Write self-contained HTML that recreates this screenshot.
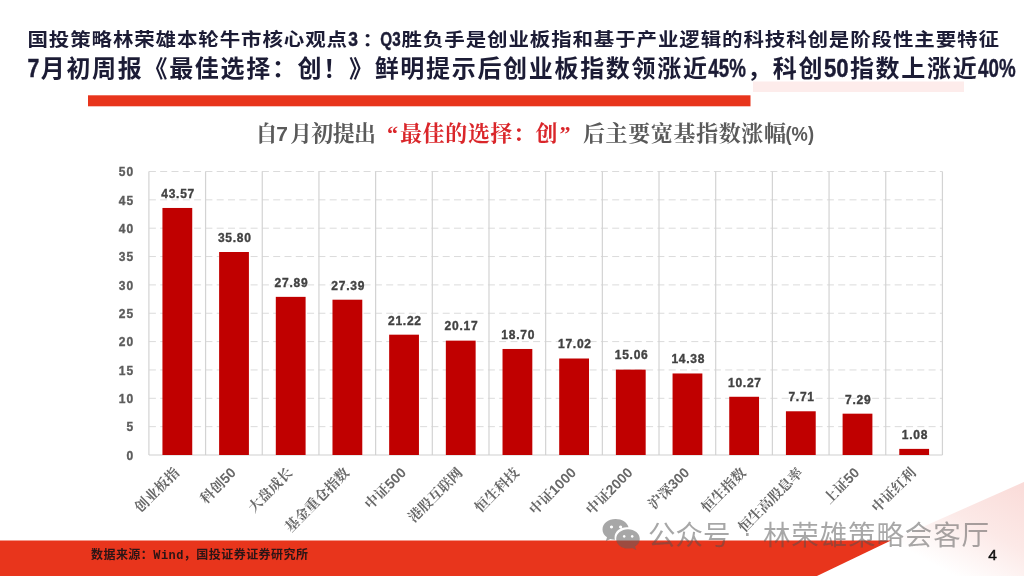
<!DOCTYPE html>
<html lang="zh-CN">
<head>
<meta charset="utf-8">
<title>国投策略 - 最佳选择：创</title>
<style>
html,body{margin:0;padding:0;background:#fff;}
body{width:1024px;height:576px;overflow:hidden;position:relative;}
svg{display:block;position:absolute;left:0;top:0;}
.sans{font-family:"Liberation Sans","Noto Sans CJK SC",sans-serif;}
.serif{font-family:"Liberation Serif","Noto Serif CJK SC",serif;}
.sserif{font-family:"Liberation Sans","Noto Serif CJK SC",serif;}
.mono{font-family:"Liberation Mono","Noto Sans Mono CJK SC","Noto Sans CJK SC",monospace;}
.t1{font-weight:700;fill:#1c1c36;}
.t2{font-weight:700;fill:#1c1c36;}
.ct{font-size:22px;font-weight:700;fill:#5a5a5a;}
.ctr{fill:#da282c;}
.yl{font-size:12px;font-weight:700;fill:#5c5c5c;stroke:#5c5c5c;stroke-width:0.35px;letter-spacing:1.0px;}
.dl{font-size:12px;font-weight:700;fill:#424242;stroke:#424242;stroke-width:0.35px;letter-spacing:0.75px;}
.xl{font-size:14px;font-weight:700;fill:#686868;}
.src{font-size:12px;font-weight:700;fill:#2a1418;}
.wm{font-size:27.5px;font-weight:400;fill:#505050;fill-opacity:0.5;}
.pg{font-size:15.5px;font-weight:400;fill:#111;stroke:#111;stroke-width:0.45px;}
</style>
</head>
<body>
<svg width="1024" height="576" viewBox="0 0 1024 576">
<defs>
<linearGradient id="pk" gradientUnits="userSpaceOnUse" x1="1012" y1="480" x2="958" y2="578">
<stop offset="0" stop-color="#fadcd9"/>
<stop offset="0.5" stop-color="#fce9e7"/>
<stop offset="1" stop-color="#ffffff"/>
</linearGradient>
<filter id="soft" filterUnits="userSpaceOnUse" x="-20" y="-20" width="1064" height="616"><feGaussianBlur stdDeviation="0.5"/></filter>
</defs>
<g filter="url(#soft)">
<rect x="-20" y="-20" width="1064" height="616" fill="#ffffff"/>
<polygon points="1040,474.9 891,541 796,586 1040,586" fill="url(#pk)"/>
<rect x="753" y="81.5" width="211" height="10.5" fill="#fdeceb"/>
<rect x="88" y="95.3" width="662.5" height="11" fill="#e8341b"/>
<text class="sans t1" y="48.30" font-size="20.50" transform="translate(0,3.4) scale(1,0.89)"><tspan x="27.44" letter-spacing="0.88">国投策略林荣雄本轮牛市核心观点</tspan><tspan x="348.20" font-size="21.81" stroke="#1c1c36" stroke-width="0.45" textLength="9.69" lengthAdjust="spacingAndGlyphs">3</tspan><tspan x="362.43" letter-spacing="0.88">：</tspan><tspan x="380.27" font-size="21.81" stroke="#1c1c36" stroke-width="0.45" textLength="20.38" lengthAdjust="spacingAndGlyphs">Q3</tspan><tspan x="401.59" letter-spacing="0.88">胜负手是创业板指和基于产业逻辑的科技科创是阶段性主要特征</tspan></text>
<text class="sans t2" y="77.00" font-size="24.00" ><tspan x="27.50" font-size="26.20" stroke="#1c1c36" stroke-width="0.45" textLength="11.85" lengthAdjust="spacingAndGlyphs">7</tspan><tspan x="40.69" letter-spacing="1.69">月初周报《最佳选择：创！》鲜明提示后创业板指数领涨近</tspan><tspan x="708.29" font-size="26.20" stroke="#1c1c36" stroke-width="0.45" textLength="37.54" lengthAdjust="spacingAndGlyphs">45%</tspan><tspan x="747.17" letter-spacing="1.69">，科创</tspan><tspan x="823.89" font-size="26.20" stroke="#1c1c36" stroke-width="0.45" textLength="24.69" lengthAdjust="spacingAndGlyphs">50</tspan><tspan x="849.93" letter-spacing="1.69">指数上涨近</tspan><tspan x="978.03" font-size="26.20" stroke="#1c1c36" stroke-width="0.45" textLength="37.54" lengthAdjust="spacingAndGlyphs">40%</tspan></text>
<text class="serif ct" y="140.6"><tspan x="255.5">自</tspan><tspan class="sans" x="276.3" font-size="21">7</tspan><tspan x="290" textLength="86" lengthAdjust="spacing">月初提出</tspan><tspan class="ctr" x="387">“</tspan><tspan class="ctr" x="400" textLength="157.5" lengthAdjust="spacing">最佳的选择：创</tspan><tspan class="ctr" x="559.5">”</tspan><tspan x="583" textLength="203" lengthAdjust="spacing">后主要宽基指数涨幅</tspan><tspan class="sans" x="785.5" font-size="20.5" textLength="28.5" lengthAdjust="spacingAndGlyphs">(%)</tspan></text>
<g stroke="#dbdbdb" stroke-width="1" fill="none">
<line x1="148.9" y1="426.65" x2="942.4" y2="426.65" stroke-dasharray="7 4.3"/>
<line x1="148.9" y1="398.30" x2="942.4" y2="398.30" stroke-dasharray="7 4.3"/>
<line x1="148.9" y1="369.95" x2="942.4" y2="369.95" stroke-dasharray="7 4.3"/>
<line x1="148.9" y1="341.60" x2="942.4" y2="341.60" stroke-dasharray="7 4.3"/>
<line x1="148.9" y1="313.25" x2="942.4" y2="313.25" stroke-dasharray="7 4.3"/>
<line x1="148.9" y1="284.90" x2="942.4" y2="284.90" stroke-dasharray="7 4.3"/>
<line x1="148.9" y1="256.55" x2="942.4" y2="256.55" stroke-dasharray="7 4.3"/>
<line x1="148.9" y1="228.20" x2="942.4" y2="228.20" stroke-dasharray="7 4.3"/>
<line x1="148.9" y1="199.85" x2="942.4" y2="199.85" stroke-dasharray="7 4.3"/>
<line x1="148.9" y1="171.50" x2="942.4" y2="171.50" stroke-dasharray="7 4.3"/>
<line x1="148.90" y1="171.5" x2="148.90" y2="455.0" stroke="#d3d3d3" stroke-width="1.2"/>
<line x1="205.58" y1="171.5" x2="205.58" y2="455.0" stroke="#d3d3d3" stroke-width="1.2"/>
<line x1="262.26" y1="171.5" x2="262.26" y2="455.0" stroke="#d3d3d3" stroke-width="1.2"/>
<line x1="318.94" y1="171.5" x2="318.94" y2="455.0" stroke="#d3d3d3" stroke-width="1.2"/>
<line x1="375.62" y1="171.5" x2="375.62" y2="455.0" stroke="#d3d3d3" stroke-width="1.2"/>
<line x1="432.30" y1="171.5" x2="432.30" y2="455.0" stroke="#d3d3d3" stroke-width="1.2"/>
<line x1="488.98" y1="171.5" x2="488.98" y2="455.0" stroke="#d3d3d3" stroke-width="1.2"/>
<line x1="545.66" y1="171.5" x2="545.66" y2="455.0" stroke="#d3d3d3" stroke-width="1.2"/>
<line x1="602.34" y1="171.5" x2="602.34" y2="455.0" stroke="#d3d3d3" stroke-width="1.2"/>
<line x1="659.02" y1="171.5" x2="659.02" y2="455.0" stroke="#d3d3d3" stroke-width="1.2"/>
<line x1="715.70" y1="171.5" x2="715.70" y2="455.0" stroke="#d3d3d3" stroke-width="1.2"/>
<line x1="772.38" y1="171.5" x2="772.38" y2="455.0" stroke="#d3d3d3" stroke-width="1.2"/>
<line x1="829.06" y1="171.5" x2="829.06" y2="455.0" stroke="#d3d3d3" stroke-width="1.2"/>
<line x1="885.74" y1="171.5" x2="885.74" y2="455.0" stroke="#d3d3d3" stroke-width="1.2"/>
<line x1="942.42" y1="171.5" x2="942.42" y2="455.0" stroke="#d3d3d3" stroke-width="1.2"/>
<line x1="148.9" y1="455.0" x2="942.4" y2="455.0" stroke="#cfcfcf"/>
</g>
<g class="sans yl" text-anchor="end">
<text x="134.2" y="459.8">0</text>
<text x="134.2" y="431.4">5</text>
<text x="134.2" y="403.1">10</text>
<text x="134.2" y="374.8">15</text>
<text x="134.2" y="346.4">20</text>
<text x="134.2" y="318.1">25</text>
<text x="134.2" y="289.7">30</text>
<text x="134.2" y="261.4">35</text>
<text x="134.2" y="233.0">40</text>
<text x="134.2" y="204.7">45</text>
<text x="134.2" y="176.3">50</text>
</g>
<g fill="#c00000">
<rect x="162.44" y="207.96" width="29.8" height="247.04"/>
<rect x="219.12" y="252.01" width="29.8" height="202.99"/>
<rect x="275.80" y="296.86" width="29.8" height="158.14"/>
<rect x="332.48" y="299.70" width="29.8" height="155.30"/>
<rect x="389.16" y="334.68" width="29.8" height="120.32"/>
<rect x="445.84" y="340.64" width="29.8" height="114.36"/>
<rect x="502.52" y="348.97" width="29.8" height="106.03"/>
<rect x="559.20" y="358.50" width="29.8" height="96.50"/>
<rect x="615.88" y="369.61" width="29.8" height="85.39"/>
<rect x="672.56" y="373.47" width="29.8" height="81.53"/>
<rect x="729.24" y="396.77" width="29.8" height="58.23"/>
<rect x="785.92" y="411.28" width="29.8" height="43.72"/>
<rect x="842.60" y="413.67" width="29.8" height="41.33"/>
<rect x="899.28" y="448.88" width="29.8" height="6.12"/>
</g>
<g class="sans dl" text-anchor="middle">
<text x="178.1" y="197.8">43.57</text>
<text x="234.8" y="241.8">35.80</text>
<text x="291.5" y="286.7">27.89</text>
<text x="348.2" y="289.5">27.39</text>
<text x="404.9" y="324.5">21.22</text>
<text x="461.5" y="330.4">20.17</text>
<text x="518.2" y="338.8">18.70</text>
<text x="574.9" y="348.3">17.02</text>
<text x="631.6" y="359.4">15.06</text>
<text x="688.3" y="363.3">14.38</text>
<text x="744.9" y="386.6">10.27</text>
<text x="801.6" y="401.1">7.71</text>
<text x="858.3" y="403.5">7.29</text>
<text x="915.0" y="438.7">1.08</text>
</g>
<g class="sserif xl" text-anchor="end">
<text transform="translate(180.1,473.6) rotate(-45)">创业板指</text>
<text transform="translate(236.8,473.6) rotate(-45)">科创50</text>
<text transform="translate(293.5,473.6) rotate(-45)">大盘成长</text>
<text transform="translate(350.2,473.6) rotate(-45)">基金重仓指数</text>
<text transform="translate(406.9,473.6) rotate(-45)">中证500</text>
<text transform="translate(463.5,473.6) rotate(-45)">港股互联网</text>
<text transform="translate(520.2,473.6) rotate(-45)">恒生科技</text>
<text transform="translate(576.9,473.6) rotate(-45)">中证1000</text>
<text transform="translate(633.6,473.6) rotate(-45)">中证2000</text>
<text transform="translate(690.3,473.6) rotate(-45)">沪深300</text>
<text transform="translate(746.9,473.6) rotate(-45)">恒生指数</text>
<text transform="translate(803.6,473.6) rotate(-45)">恒生高股息率</text>
<text transform="translate(860.3,473.6) rotate(-45)">上证50</text>
<text transform="translate(917.0,473.6) rotate(-45)">中证红利</text>
</g>
<polygon points="-10,540.5 891,540.5 796.1,586 -10,586" fill="#e8341b"/>
<text class="mono src" x="91" y="559.2" textLength="217" lengthAdjust="spacing">数据来源：Wind，国投证券证券研究所</text>
<g fill="#5e5e5e" fill-opacity="0.55">
<path d="M615.5 519 C608.2 519 602.5 523.6 602.5 529.4 C602.5 532.6 604.3 535.4 607 537.3 L605.8 541.2 L610.3 538.9 C611.9 539.4 613.3 539.7 615 539.8 C614.7 538.9 614.6 538 614.6 537 C614.6 531.6 620 527.2 626.6 527.2 C627.3 527.2 627.9 527.2 628.5 527.3 C627.4 522.5 622 519 615.5 519 Z M611.5 525.4 A1.6 1.6 0 1 1 611.49 525.4 Z M620.6 525.4 A1.6 1.6 0 1 1 620.59 525.4 Z"/>
<path d="M628 529.3 C621.4 529.3 616.2 533.6 616.2 538.9 C616.2 544.2 621.4 548.5 628 548.5 C629.4 548.5 630.8 548.3 632 547.9 L636.2 550 L635.1 546.5 C637.9 544.7 639.8 542 639.8 538.9 C639.8 533.6 634.5 529.3 628 529.3 Z M624.2 535 A1.35 1.35 0 1 1 624.19 535 Z M632.2 535 A1.35 1.35 0 1 1 632.19 535 Z"/>
</g>
<text class="sans wm" y="544.6"><tspan x="648">公众号</tspan><tspan x="735" dy="-3"> · </tspan><tspan x="763" dy="3" textLength="226" lengthAdjust="spacing">林荣雄策略会客厅</tspan></text>
<text class="sans pg" x="988.3" y="559.6">4</text>
</g>
</svg>
</body>
</html>
